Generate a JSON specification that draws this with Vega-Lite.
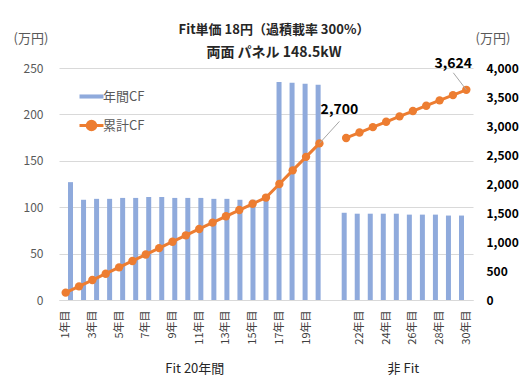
{
  "$schema": "https://vega.github.io/schema/vega-lite/v6.json",
  "width": 414,
  "height": 232,
  "autosize": "none",
  "padding": {"left": 59, "top": 68, "right": 59, "bottom": 91},
  "background": "white",
  "config": {"font": "Noto Sans CJK JP", "view": {"stroke": null}},
  "title": {
    "text": "Fit単価 18円（過積載率 300%）",
    "subtitle": "両面 パネル 148.5kW",
    "anchor": "middle",
    "fontSize": 13,
    "fontWeight": "bold",
    "color": "#262626",
    "subtitleFontSize": 14,
    "subtitleFontWeight": "bold",
    "subtitleColor": "#262626",
    "subtitlePadding": 9,
    "offset": 8,
    "dx": 8,
    "dy": 36
  },
  "data": {
    "values": [
      {"slot": 1, "annual": 127, "cum": 127, "period": "Fit"},
      {"slot": 2, "annual": 108, "cum": 235, "period": "Fit"},
      {"slot": 3, "annual": 109, "cum": 344, "period": "Fit"},
      {"slot": 4, "annual": 109, "cum": 453, "period": "Fit"},
      {"slot": 5, "annual": 110, "cum": 563, "period": "Fit"},
      {"slot": 6, "annual": 110, "cum": 673, "period": "Fit"},
      {"slot": 7, "annual": 111, "cum": 784, "period": "Fit"},
      {"slot": 8, "annual": 111, "cum": 895, "period": "Fit"},
      {"slot": 9, "annual": 110, "cum": 1005, "period": "Fit"},
      {"slot": 10, "annual": 110, "cum": 1115, "period": "Fit"},
      {"slot": 11, "annual": 110, "cum": 1225, "period": "Fit"},
      {"slot": 12, "annual": 109, "cum": 1334, "period": "Fit"},
      {"slot": 13, "annual": 109, "cum": 1443, "period": "Fit"},
      {"slot": 14, "annual": 108, "cum": 1551, "period": "Fit"},
      {"slot": 15, "annual": 108, "cum": 1659, "period": "Fit"},
      {"slot": 16, "annual": 107, "cum": 1766, "period": "Fit"},
      {"slot": 17, "annual": 235, "cum": 2001, "period": "Fit"},
      {"slot": 18, "annual": 234, "cum": 2235, "period": "Fit"},
      {"slot": 19, "annual": 233, "cum": 2468, "period": "Fit"},
      {"slot": 20, "annual": 232, "cum": 2700, "period": "Fit"},
      {"slot": 22, "annual": 94, "cum": 2794, "period": "非Fit"},
      {"slot": 23, "annual": 93, "cum": 2887, "period": "非Fit"},
      {"slot": 24, "annual": 93, "cum": 2980, "period": "非Fit"},
      {"slot": 25, "annual": 93, "cum": 3073, "period": "非Fit"},
      {"slot": 26, "annual": 93, "cum": 3166, "period": "非Fit"},
      {"slot": 27, "annual": 92, "cum": 3258, "period": "非Fit"},
      {"slot": 28, "annual": 92, "cum": 3350, "period": "非Fit"},
      {"slot": 29, "annual": 92, "cum": 3442, "period": "非Fit"},
      {"slot": 30, "annual": 91, "cum": 3533, "period": "非Fit"},
      {"slot": 31, "annual": 91, "cum": 3624, "period": "非Fit"}
    ]
  },
  "layer": [
    {
      "mark": {"type": "bar", "size": 5},
      "encoding": {
        "x": {
          "field": "slot", "type": "quantitative",
          "scale": {"domain": [0.5, 31.5], "nice": false, "zero": false},
          "axis": {
            "orient": "bottom",
            "values": [10.5, 26.5],
            "labelExpr": "datum.value < 20 ? 'Fit 20年間' : '非 Fit'",
            "grid": false, "ticks": false, "domain": false,
            "labelPadding": 62, "labelFontSize": 13, "labelColor": "#262626",
            "labelFlush": false, "labelOverlap": false, "title": null
          }
        },
        "y": {
          "field": "annual", "type": "quantitative",
          "scale": {"domain": [0, 250], "nice": false},
          "axis": {
            "values": [0, 50, 100, 150, 200, 250],
            "title": "(万円)", "titleAngle": 0, "titleX": -46, "titleY": -30,
            "titleAlign": "left", "titleBaseline": "middle", "titleFontWeight": "normal",
            "titleFontSize": 13, "titleColor": "#595959",
            "labelColor": "#595959", "labelFontSize": 12, "labelPadding": 16,
            "ticks": false, "domain": false, "grid": true, "gridColor": "#d9d9d9"
          }
        },
        "color": {
          "datum": "年間CF", "type": "nominal",
          "scale": {"domain": ["年間CF", "累計CF"], "range": ["#8FAADC", "#ED7D31"]},
          "legend": {
            "title": null, "orient": "none", "legendX": 26, "legendY": 22,
            "labelFontSize": 13, "labelColor": "#595959", "symbolSize": 576,
            "rowPadding": 11, "labelOffset": 5,
            "encode": {
              "symbols": {
                "update": {
                  "shape": {"signal": "datum.value === '年間CF' ? 'M-1,-0.17H1V0.17H-1Z' : 'M-1,0H1M-0.36,0A0.36,0.36 0 1,0 0.36,0A0.36,0.36 0 1,0 -0.36,0Z'"},
                  "fill": {"signal": "datum.value === '年間CF' ? '#8FAADC' : '#ED7D31'"},
                  "stroke": {"signal": "datum.value === '年間CF' ? '#8FAADC' : '#ED7D31'"},
                  "strokeWidth": {"signal": "datum.value === '年間CF' ? 0 : 3"},
                  "opacity": {"value": 1},
                  "fillOpacity": {"value": 1},
                  "strokeOpacity": {"value": 1}
                }
              }
            }
          }
        }
      }
    },
    {
      "encoding": {
        "x": {
          "field": "slot", "type": "quantitative",
          "scale": {"domain": [0.5, 31.5], "nice": false, "zero": false},
          "axis": {
            "orient": "bottom",
            "values": [1, 3, 5, 7, 9, 11, 13, 15, 17, 19, 23, 25, 27, 29, 31],
            "labelExpr": "(datum.value <= 20 ? datum.value : datum.value - 1) + '年目'",
            "labelAngle": -90, "labelFontSize": 11, "labelColor": "#404040",
            "labelPadding": 10, "ticks": false, "domain": true, "domainColor": "#d9d9d9",
            "grid": false, "title": null, "labelFlush": false, "labelOverlap": false
          }
        },
        "y": {
          "field": "cum", "type": "quantitative",
          "scale": {"domain": [0, 4000], "nice": false},
          "axis": {
            "orient": "right",
            "values": [0, 500, 1000, 1500, 2000, 2500, 3000, 3500, 4000],
            "labelExpr": "format(datum.value, ',')",
            "labelFontWeight": "bold", "labelColor": "#000000",
            "labelFontSize": 12, "labelPadding": 13, "labelAlign": "left",
            "ticks": false, "domain": false, "grid": false,
            "title": "(万円)", "titleAngle": 0, "titleX": 2, "titleY": -30,
            "titleAlign": "left", "titleBaseline": "middle", "titleFontWeight": "normal",
            "titleFontSize": 13, "titleColor": "#595959"
          }
        }
      },
      "layer": [
        {
          "mark": {"type": "line", "strokeWidth": 3, "point": {"filled": true, "size": 70}},
          "encoding": {
            "detail": {"field": "period", "type": "nominal"},
            "color": {"datum": "累計CF", "type": "nominal"}
          }
        },
        {
          "transform": [{"filter": "datum.slot == 20"}],
          "mark": {"type": "rule", "color": "#a6a6a6", "strokeWidth": 1, "x2Offset": 20, "y2Offset": -22},
          "encoding": {
            "x2": {"field": "slot"},
            "y2": {"field": "cum"}
          }
        },
        {
          "transform": [{"filter": "datum.slot == 31"}],
          "mark": {"type": "rule", "color": "#a6a6a6", "strokeWidth": 1, "x2Offset": -13, "y2Offset": -17},
          "encoding": {
            "x2": {"field": "slot"},
            "y2": {"field": "cum"}
          }
        },
        {
          "transform": [{"filter": "datum.slot == 20"}],
          "mark": {"type": "text", "fontSize": 14, "fontWeight": "bold", "color": "#000000", "dx": 20, "dy": -33, "align": "center", "baseline": "middle"},
          "encoding": {
            "text": {"field": "cum", "type": "quantitative", "format": ","}
          }
        },
        {
          "transform": [{"filter": "datum.slot == 31"}],
          "mark": {"type": "text", "fontSize": 14, "fontWeight": "bold", "color": "#000000", "dx": -13, "dy": -26, "align": "center", "baseline": "middle"},
          "encoding": {
            "text": {"field": "cum", "type": "quantitative", "format": ","}
          }
        }
      ]
    }
  ],
  "resolve": {"scale": {"x": "independent", "y": "independent"}}
}
